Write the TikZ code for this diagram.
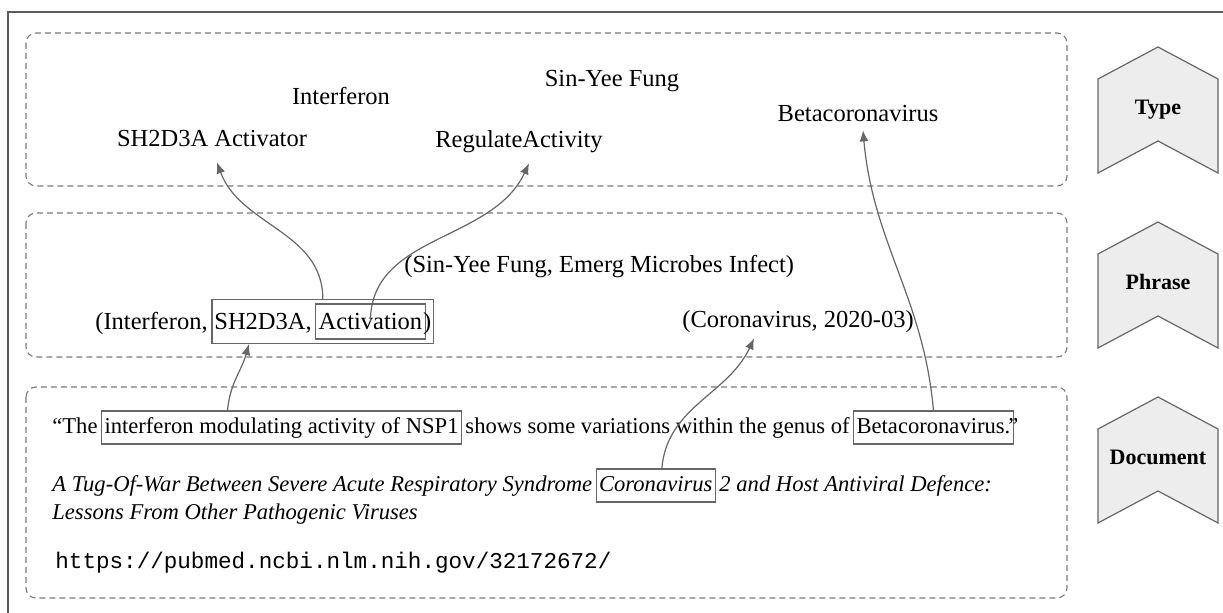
\documentclass[tikz,border=0pt]{standalone}
\usepackage{fontspec}
\setmainfont{Liberation Serif}
\setmonofont{Liberation Mono}
\usetikzlibrary{arrows.meta, positioning, fit}
\definecolor{linegray}{HTML}{666666}
\definecolor{boxgray}{HTML}{7A7A7A}
\definecolor{chevfill}{HTML}{EDEDED}
\newcommand{\typesize}{\fontsize{12.25}{14}\selectfont}
\newcommand{\docsize}{\fontsize{11.3}{13}\selectfont}

\begin{document}
\begin{tikzpicture}[x=0.5pt, y=-0.5pt,
  level/.style={draw=boxgray, dash pattern=on 3pt off 2pt, rounded corners=5pt, line width=0.55pt},
  chev/.style={draw=linegray, fill=chevfill, line width=0.6pt},
  lab/.style={font=\fontsize{11}{13}\selectfont\bfseries, anchor=base},
  typ/.style={font=\typesize, inner xsep=2pt, inner ysep=4.5pt, text height=9pt, text depth=3pt, anchor=base},
  phr/.style={font=\typesize, inner sep=0pt, text height=10pt, text depth=1.5pt},
  doc/.style={font=\docsize, inner sep=0pt, text height=8.5pt, text depth=2pt},
  ital/.style={doc, font=\docsize\itshape},
  hl/.style={draw=linegray, line width=0.55pt, inner xsep=1.5pt, inner ysep=3pt},
  link/.style={draw=linegray, line width=0.6pt, -{Latex[length=5.5pt,width=4.5pt]}}]
\useasboundingbox (0,0) rectangle (1223,613);
\draw[draw=black!65, line width=0.8pt] (8,630) |- (1240,12);

\draw[level] (26,33) rectangle (1067,186);
\draw[level] (26,213) rectangle (1067,357);
\draw[level] (26,387) rectangle (1067,598);

\foreach \t/\name in {47/Type, 222/Phrase, 397/Document} {
  \draw[chev] (1098,\t+32) -- (1158,\t) -- (1218,\t+32) -- (1218,\t+126) -- (1158,\t+94) -- (1098,\t+126) -- cycle;
  \node[lab] (\name) at (1158,\t+68) {\name};
}

\node[typ] (intf) at (341,105) {Interferon};
\node[typ] (sha) at (212,147) {SH2D3A Activator};
\node[typ] (syf) at (612,87) {Sin-Yee Fung};
\node[typ] (reg) at (519,148) {RegulateActivity};
\node[typ] (betat) at (858,122) {Betacoronavirus};

\node[phr, anchor=base west] (psy) at (404,273) {(Sin-Yee Fung, Emerg Microbes Infect)};
\node[phr, anchor=base west] (pi1) at (95,330) {(Interferon,};
\node[phr] (sh2) [base right=3pt of pi1] {SH2D3A,};
\node[phr, hl] (act) [base right=1.5pt of sh2] {Activation};
\node[phr] (pi2) [base right=-1.5pt of act] {)};
\node[hl, fit=(sh2)(act)(pi2), inner xsep=1pt, inner ysep=2pt] (trip) {};
\node[phr, anchor=base west] (pco) at (682,328) {(Coronavirus, 2020-03)};

\node[doc, anchor=base west] (q1) at (52,434) {“The};
\node[doc, hl] (nsp) [base right=1.5pt of q1] {interferon modulating activity of NSP1};
\node[doc] (q2) [base right=1.5pt of nsp] {shows some variations within the genus of};
\node[doc, hl] (beta) [base right=1.5pt of q2] {Betacoronavirus.};
\node[doc] (q3) [base right=-3pt of beta] {”};
\node[ital, anchor=base west] (t1) at (52,492) {A Tug-Of-War Between Severe Acute Respiratory Syndrome};
\node[ital, hl] (coro) [base right=1.5pt of t1] {Coronavirus};
\node[ital] (t2) [base right=1.5pt of coro] {2 and Host Antiviral Defence:};
\node[ital, anchor=base west] (t3) at (52,520) {Lessons From Other Pathogenic Viruses};
\node[doc, font=\docsize\ttfamily, anchor=base west] (url) at (55,569) {https://pubmed.ncbi.nlm.nih.gov/32172672/};

\draw[link] ([xshift=-27pt]nsp.north) to[out=85,in=-105] ([xshift=-37pt]trip.south);
\draw[link] (trip.north) to[out=90,in=-70] ([xshift=2.5pt]sha.south);
\draw[link] (act.center) to[out=90,in=-115] ([xshift=5pt]reg.south);
\draw[link] ([xshift=3pt]coro.north) to[out=85,in=-115] ([xshift=-22pt,yshift=-3.5pt]pco.south);
\draw[link] (beta.north) to[out=95,in=-85] ([xshift=2.5pt,yshift=3.5pt]betat.south);
\end{tikzpicture}
\end{document}
